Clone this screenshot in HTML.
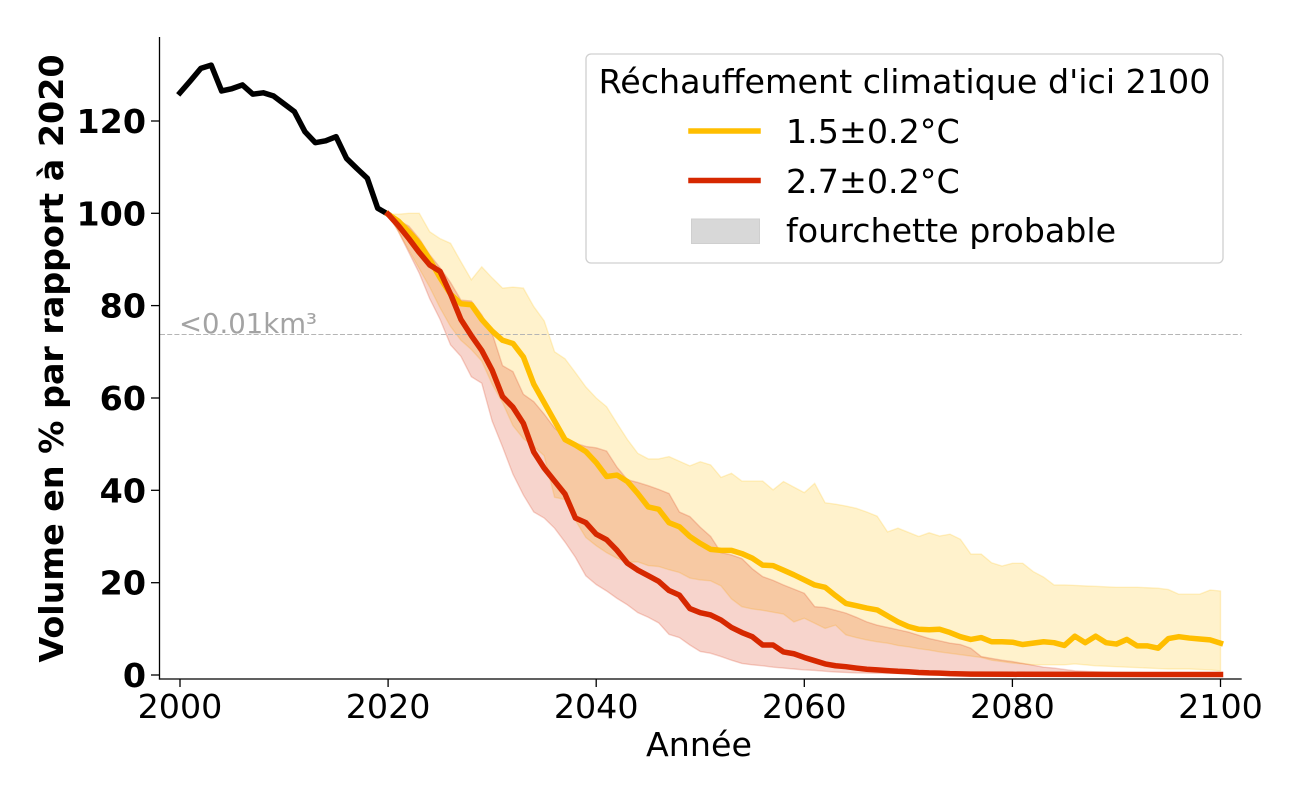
<!DOCTYPE html>
<html>
<head>
<meta charset="utf-8">
<style>
  html, body { margin:0; padding:0; background:#ffffff; }
  svg { display:block; }
  text { font-family: "DejaVu Sans", "Liberation Sans", sans-serif; }
</style>
</head>
<body>
<svg width="1300" height="800" viewBox="0 0 1300 800" xmlns="http://www.w3.org/2000/svg">
  <rect x="0" y="0" width="1300" height="800" fill="#ffffff"/>

  <!-- data group: x = year-2000, y = value -->
  <g transform="translate(180,675) scale(10.405,-4.617)">
    <!-- 1.5°C band -->
    <polygon fill="#ffbf00" fill-opacity="0.2" stroke="#ffbf00" stroke-opacity="0.2" stroke-width="1.4" vector-effect="non-scaling-stroke"
      points="20,99.8 21,99.8 22,100 23,100 24,96 25,94.5 26,93.5 27,89.5 28,85.6 29,88.4 30,86 31,83.8 32,84 33,83.8 34,79.8 35,76.7 36,70 37,68.5 38,65.5 39,62.4 40,60 41,58.1 42,54.5 43,51 44,48 45,46.8 46,46.8 47,47.3 48,46.3 49,45.3 50,46.2 51,45.5 52,42.8 53,43.7 54,42 55,42 56,42 57,40.1 58,41.9 59,40.7 60,39.5 61,41.5 62,37.3 63,37 64,36.6 65,36.1 66,35.3 67,34.4 68,31 69,31.8 70,30.9 71,30 72,30.8 73,30.1 74,30.5 75,29.4 76,26.2 77,26.2 78,24.3 79,23.6 80,24.2 81,24.2 82,22.4 83,21.2 84,19.5 85,19.5 86,19.4 87,19.3 88,19.2 89,19.1 90,19 91,19 92,19 93,18.9 94,18.8 95,18.5 96,17.5 97,17.5 98,17.5 99,18.4 100,18.2 100,0.9 99,1.1 98,1.2 97,1.3 96,1.3 95,1.3 94,1.4 93,1.5 92,1.6 91,1.7 90,1.8 89,1.9 88,2 87,2.2 86,2.4 85,2.2 84,2.2 83,2.2 82,2.2 81,2.4 80,2.6 79,2.9 78,3.2 77,3.8 76,4.1 75,4.4 74,4.7 73,5 72,5.4 71,5.7 70,6.1 69,6.4 68,6.9 67,7.2 66,7.6 65,8.1 64,8.7 63,10.8 62,10.1 61,11.2 60,12.3 59,11.5 58,13.2 57,13.6 56,14 55,14.3 54,14.8 53,16.5 52,19.3 51,20.4 50,20.6 49,21 48,22.2 47,22.8 46,23.5 45,23.7 44,24.5 43,24.4 42,25.3 41,26.5 40,28 39,29.8 38,33.5 37,38 36,38.5 35,47.5 34,49.5 33,51.2 32,54 31,59 30,63 29,68 28,70.5 27,72.5 26,75.5 25,79.5 24,84 23,88 22,92 21,96"/>
    <!-- 2.7°C band -->
    <polygon fill="#d62800" fill-opacity="0.2" stroke="#d62800" stroke-opacity="0.2" stroke-width="1.4" vector-effect="non-scaling-stroke"
      points="20,99.8 21,98.5 22,97.2 23,94.5 24,91 25,88.2 26,85 27,81.2 28,81 29,78 30,74 31,67 32,65.7 33,60.8 34,59.2 35,56.5 36,53.5 37,51.5 38,50.2 39,49.5 40,49.2 41,48.5 42,45 43,42.3 44,41.7 45,41 46,40.2 47,39.3 48,35.3 49,34.3 50,32 51,30 52,26.5 53,26 54,25.2 55,23 56,21.3 57,20.5 58,19.5 59,18.6 60,17.7 61,14.8 62,14.6 63,14 64,13.4 65,12.5 66,11.5 67,10.8 68,10.3 69,9.8 70,9.3 71,8.6 72,7.9 73,7.4 74,6.9 75,6.6 76,5.8 77,4 78,3.6 79,3.2 80,2.9 81,2.5 82,2.1 83,1.7 84,1.5 85,1.2 86,0.9 87,0.8 88,0.7 89,0.6 90,0.5 100,0.3 100,0.05 80,0.15 70,0.3 65,0.45 64,0.55 63,0.65 62,0.8 61,1 60,1.1 59,1.3 58,1.5 57,1.7 56,2 55,2.2 54,2.5 53,3.2 52,4 51,4.7 50,5.1 49,6.5 48,8.1 47,8.8 46,11.3 45,12.5 44,13.5 43,15.2 42,16.6 41,18.2 40,19.6 39,21.5 38,25.5 37,28.8 36,31.8 35,34 34,35.3 33,39 32,43.5 31,49.4 30,55 29,63.2 28,64.6 27,69 26,71.5 25,77 24,81.5 23,87 22,91.5 21,96"/>
  </g>

  <!-- dashed threshold line -->
  <line x1="160" y1="334.5" x2="1241.7" y2="334.5" stroke="#b5b5b5" stroke-width="1" stroke-dasharray="5 2.2"/>
  <text x="179" y="333" font-size="27.5" fill="#a3a3a3">&lt;0.01km³</text>

  <g transform="translate(180,675) scale(10.405,-4.617)" fill="none" stroke-linejoin="round" stroke-linecap="square">
    <polyline stroke="#000000" stroke-width="5.5" vector-effect="non-scaling-stroke"
      points="0,126.1 1,128.7 2,131.4 3,132.1 4,126.5 5,127 6,127.8 7,125.8 8,126.1 9,125.4 10,123.7 11,122 12,117.7 13,115.3 14,115.7 15,116.6 16,111.9 17,109.7 18,107.6 19,101.1 20,99.8"/>
    <polyline stroke="#ffbe00" stroke-width="5.5" vector-effect="non-scaling-stroke"
      points="20,99.8 21,98.3 22,96 23,93.5 24,90 25,86 26,82.5 27,80.4 28,80.2 29,77 30,74.5 31,72.5 32,71.8 33,68.9 34,63 35,59 36,55 37,51 38,49.8 39,48.4 40,46 41,43 42,43.3 43,41.9 44,39.3 45,36.4 46,35.9 47,33 48,32.1 49,30 50,28.5 51,27.2 52,27 53,27 54,26.3 55,25.3 56,23.8 57,23.7 58,22.7 59,21.7 60,20.6 61,19.5 62,19 63,17.2 64,15.5 65,15 66,14.5 67,14.1 68,12.8 69,11.5 70,10.5 71,9.9 72,9.8 73,9.9 74,9.2 75,8.3 76,7.7 77,8.1 78,7.2 79,7.2 80,7.1 81,6.6 82,6.9 83,7.2 84,7 85,6.4 86,8.4 87,7 88,8.4 89,7 90,6.7 91,7.7 92,6.3 93,6.3 94,5.8 95,7.9 96,8.3 97,8 98,7.8 99,7.6 100,6.9"/>
    <polyline stroke="#d62800" stroke-width="5.5" vector-effect="non-scaling-stroke"
      points="20,99.8 21,97.3 22,94.5 23,91.5 24,88.8 25,87.4 26,82.5 27,77 28,73.5 29,70.3 30,66 31,60.3 32,58 33,54.5 34,48.3 35,44.8 36,42 37,39.2 38,34 39,33 40,30.5 41,29.3 42,27 43,24.2 44,22.7 45,21.5 46,20.3 47,18.3 48,17.3 49,14.4 50,13.5 51,13 52,11.9 53,10.3 54,9.2 55,8.3 56,6.5 57,6.5 58,5 59,4.6 60,3.8 61,3.1 62,2.4 63,2 64,1.8 65,1.5 66,1.25 67,1.1 68,0.95 69,0.8 70,0.7 71,0.55 72,0.45 73,0.4 74,0.3 75,0.25 76,0.2 80,0.15 100,0.1"/>
  </g>

  <!-- spines -->
  <line x1="159.5" y1="37" x2="159.5" y2="679.6" stroke="#000" stroke-width="1.3"/>
  <line x1="158.9" y1="679" x2="1241.7" y2="679" stroke="#000" stroke-width="1.3"/>

  <!-- x ticks -->
  <g stroke="#000" stroke-width="1.3">
    <line x1="180" y1="679" x2="180" y2="687"/>
    <line x1="388.1" y1="679" x2="388.1" y2="687"/>
    <line x1="596.2" y1="679" x2="596.2" y2="687"/>
    <line x1="804.3" y1="679" x2="804.3" y2="687"/>
    <line x1="1012.4" y1="679" x2="1012.4" y2="687"/>
    <line x1="1220.5" y1="679" x2="1220.5" y2="687"/>
  </g>
  <g font-size="33.3" fill="#000" text-anchor="middle">
    <text x="180" y="718">2000</text>
    <text x="388.1" y="718">2020</text>
    <text x="596.2" y="718">2040</text>
    <text x="804.3" y="718">2060</text>
    <text x="1012.4" y="718">2080</text>
    <text x="1220.5" y="718">2100</text>
  </g>
  <text x="699" y="756" font-size="33.3" text-anchor="middle" fill="#000">Année</text>

  <!-- y ticks -->
  <g stroke="#000" stroke-width="1.3">
    <line x1="151" y1="675" x2="159.5" y2="675"/>
    <line x1="151" y1="582.7" x2="159.5" y2="582.7"/>
    <line x1="151" y1="490.3" x2="159.5" y2="490.3"/>
    <line x1="151" y1="398" x2="159.5" y2="398"/>
    <line x1="151" y1="305.6" x2="159.5" y2="305.6"/>
    <line x1="151" y1="213.3" x2="159.5" y2="213.3"/>
    <line x1="151" y1="121" x2="159.5" y2="121"/>
  </g>
  <g font-size="33.3" font-weight="bold" fill="#000" text-anchor="end">
    <text x="146" y="687">0</text>
    <text x="146" y="594.7">20</text>
    <text x="146" y="502.3">40</text>
    <text x="146" y="410">60</text>
    <text x="146" y="317.6">80</text>
    <text x="146" y="225.3">100</text>
    <text x="146" y="133">120</text>
  </g>
  <text transform="translate(63,358.5) rotate(-90)" font-size="33.3" font-weight="bold" text-anchor="middle" fill="#000">Volume en % par rapport à 2020</text>

  <!-- legend -->
  <rect x="586" y="54" width="637" height="209" rx="5" ry="5" fill="#ffffff" fill-opacity="0.8" stroke="#d0d0d0" stroke-width="1.3"/>
  <text x="904.5" y="93" font-size="33.3" text-anchor="middle" fill="#000">Réchauffement climatique d'ici 2100</text>
  <line x1="691" y1="131" x2="758" y2="131" stroke="#ffbe00" stroke-width="5.5" stroke-linecap="square"/>
  <text x="786" y="143" font-size="33.3" fill="#000">1.5±0.2°C</text>
  <line x1="691" y1="180.5" x2="758" y2="180.5" stroke="#d62800" stroke-width="5.5" stroke-linecap="square"/>
  <text x="786" y="193" font-size="33.3" fill="#000">2.7±0.2°C</text>
  <rect x="691.5" y="219" width="68" height="24.5" fill="#d8d8d8" stroke="#cfcfcf" stroke-width="1"/>
  <text x="786" y="242" font-size="33.3" fill="#000">fourchette probable</text>
</svg>
</body>
</html>
